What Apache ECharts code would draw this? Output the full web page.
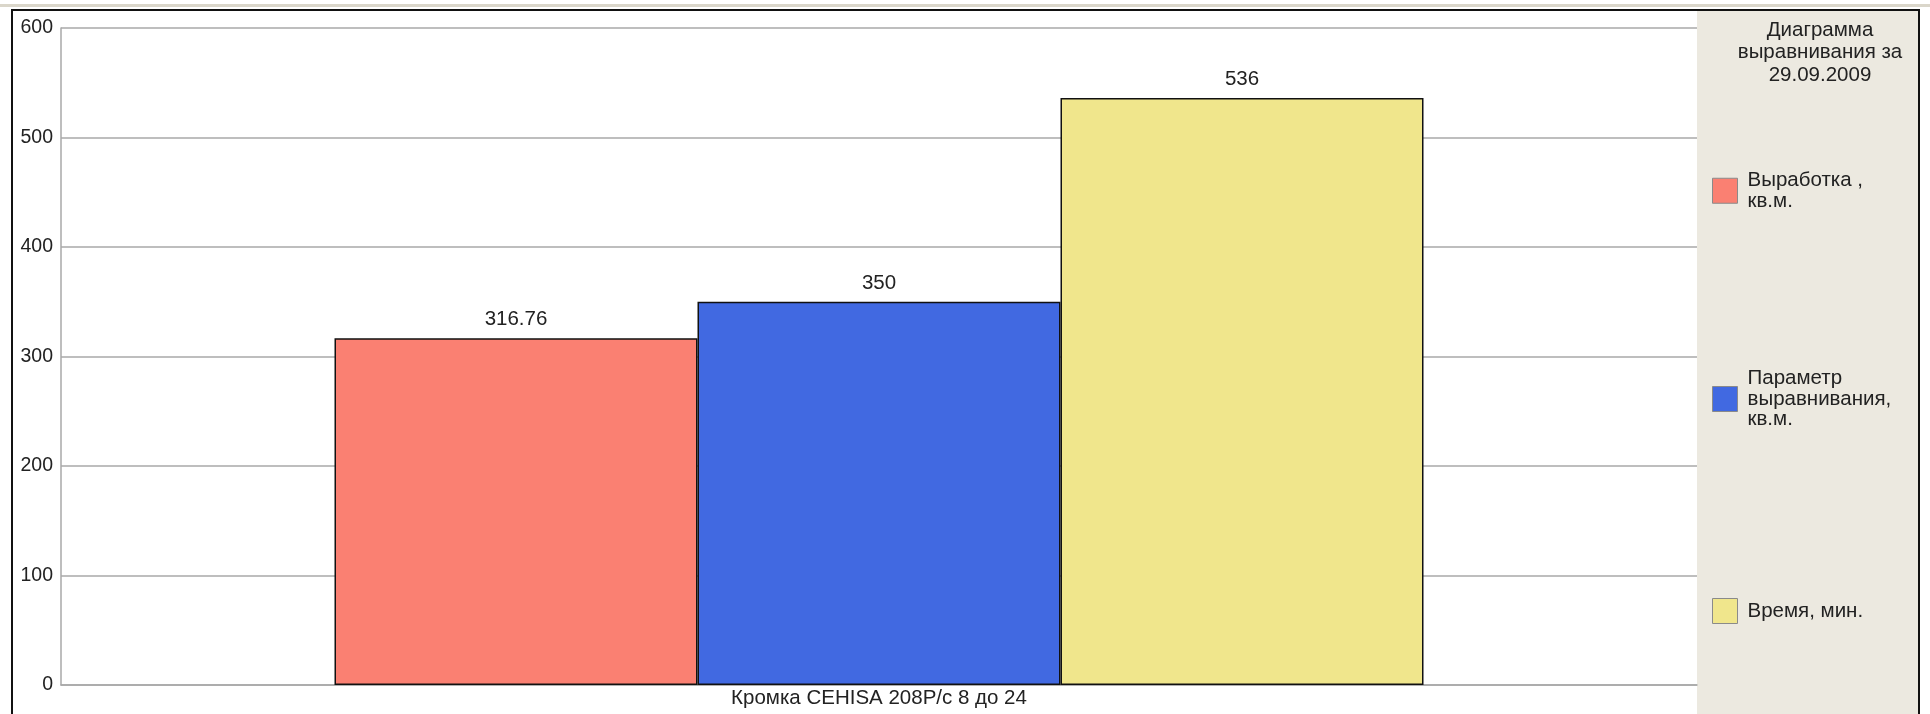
<!DOCTYPE html>
<html><head><meta charset="utf-8">
<script src="https://cdn.jsdelivr.net/npm/echarts@6/dist/echarts.min.js"></script>
<style>html,body{margin:0;padding:0;background:#fff}#c{width:1930px;height:714px}</style>
</head><body><div id="c"></div>
<script>
const categories = ['Кромка CEHISA 208P/c 8 до 24'];
const seriesNames = ['Выработка , кв.м.', 'Параметр выравнивания, кв.м.', 'Время, мин.'];
const legendLabels = ['Выработка ,\nкв.м.', 'Параметр\nвыравнивания,\nкв.м.', 'Время, мин.'];
const vyrabotka = [316.76];
const parametr = [350];
const vremya = [536];
const yTicks = [0, 100, 200, 300, 400, 500, 600];
const chartTitle = 'Диаграмма\nвыравнивания за\n29.09.2009';

const colors = ['#FA8072', '#4169E1', '#F0E68C'];
const values = [vyrabotka, parametr, vremya];
const FONT = 'Liberation Sans, Arial, sans-serif';
const chart = echarts.init(document.getElementById('c'), null, {renderer: 'canvas'});
const legendTops = [170, 368, 598];
chart.setOption({
  animation: false,
  backgroundColor: '#ffffff',
  title: {
    text: chartTitle, left: 1815, top: 14, textAlign: 'center',
    textStyle: {fontFamily: FONT, fontSize: 20.5, fontWeight: 'normal', color: '#222', lineHeight: 22.5}
  },
  graphic: [
    {type: 'rect', shape: {x: 1697, y: 10, width: 222, height: 720}, style: {fill: '#ECE9E0'}, z: -10, silent: true},
    {type: 'rect', shape: {x: 0, y: 4, width: 1930, height: 3}, style: {fill: '#DAD6CA'}, silent: true},
    {type: 'rect', shape: {x: 12, y: 10, width: 1907, height: 720}, style: {fill: null, stroke: '#111', lineWidth: 2}, silent: true, z: 100}
  ],
  legend: seriesNames.map((n, i) => ({
    data: [n], orient: 'vertical', left: 1712, top: legendTops[i], padding: 0,
    itemWidth: 25, itemHeight: 25, selectedMode: false,
    icon: 'rect',
    itemStyle: {borderColor: '#8a8a8a', borderWidth: 1},
    formatter: () => legendLabels[i],
    textStyle: {fontFamily: FONT, fontSize: 20.5, color: '#222', lineHeight: 20.5, padding: [0, 0, 0, 5]}
  })),
  grid: {left: 61, right: 233, top: 28, bottom: 29},
  xAxis: {
    type: 'category', data: categories,
    axisLine: {lineStyle: {color: '#a8a8a8', width: 1.5}},
    axisTick: {show: false},
    axisLabel: {fontFamily: FONT, fontSize: 20.5, color: '#222', margin: 3}
  },
  yAxis: {
    type: 'value', min: yTicks[0], max: yTicks[yTicks.length - 1], interval: 100,
    axisLine: {show: true, lineStyle: {color: '#a8a8a8', width: 1.5}},
    axisTick: {show: false},
    splitLine: {lineStyle: {color: '#a8a8a8', width: 1.5}},
    axisLabel: {fontFamily: FONT, fontSize: 19.5, color: '#222', margin: 8}
  },
  series: seriesNames.map((n, i) => ({
    name: n, type: 'bar', data: values[i],
    barWidth: 363, barGap: '0%',
    itemStyle: {color: colors[i], borderColor: '#111', borderWidth: 1.5},
    label: {show: true, position: 'top', distance: 8, fontFamily: FONT, fontSize: 20.5, color: '#222'}
  }))
});
</script></body></html>
